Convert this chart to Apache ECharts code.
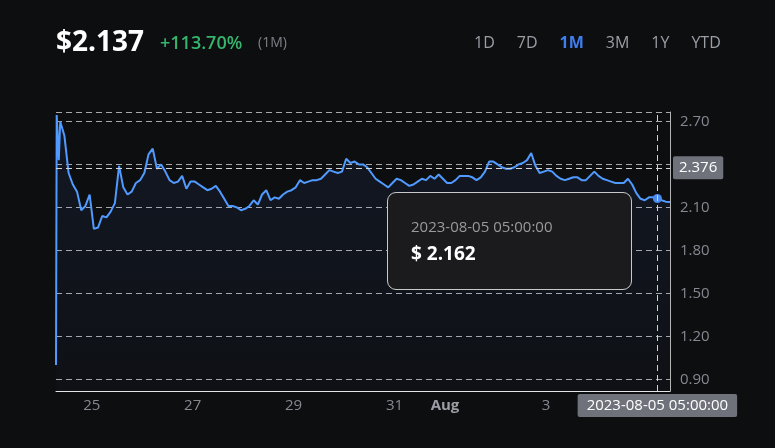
<!DOCTYPE html>
<html lang="en" style="height: 100%">
<head>
  <meta charset="utf-8">
</head>
<body style="height: 100%; margin: 0; background: #0d0e10">
  <div id="container" style="height: 100%"></div>

  <script type="text/javascript" src="https://cdn.jsdelivr.net/npm/echarts@6/dist/echarts.min.js"></script>

  <script type="text/javascript">
    // listing burst, first hours
    var openTimes = ['2023-07-24T07:00:00', '2023-07-24T07:20:00', '2023-07-24T08:20:00'];
    var openPrices = [1.000, 2.745, 2.430];

    // then one price every 2 hours from 2023-07-24 09:00
    var stepStart = '2023-07-24T09:00:00';
    var stepHours = 2;
    var prices = [
      2.70, 2.60, 2.34, 2.26, 2.21, 2.08, 2.11, 2.19, 1.95, 1.96,
      2.04, 2.03, 2.07, 2.13, 2.39, 2.24, 2.19, 2.21, 2.27, 2.29,
      2.34, 2.47, 2.51, 2.37, 2.40, 2.35, 2.29, 2.27, 2.28, 2.32,
      2.23, 2.28, 2.28, 2.26, 2.24, 2.22, 2.23, 2.25, 2.21, 2.16,
      2.11, 2.11, 2.10, 2.08, 2.09, 2.11, 2.15, 2.12, 2.19, 2.22,
      2.15, 2.17, 2.16, 2.19, 2.21, 2.22, 2.24, 2.29, 2.27, 2.28,
      2.29, 2.29, 2.30, 2.33, 2.36, 2.35, 2.34, 2.35, 2.44, 2.41,
      2.42, 2.40, 2.40, 2.38, 2.34, 2.30, 2.28, 2.26, 2.24, 2.27,
      2.30, 2.29, 2.27, 2.25, 2.26, 2.28, 2.30, 2.29, 2.32, 2.30,
      2.33, 2.30, 2.27, 2.27, 2.29, 2.32, 2.32, 2.32, 2.31, 2.29,
      2.31, 2.35, 2.42, 2.42, 2.40, 2.38, 2.37, 2.37, 2.38, 2.40,
      2.41, 2.43, 2.48, 2.39, 2.34, 2.35, 2.36, 2.35, 2.32, 2.30,
      2.29, 2.30, 2.31, 2.31, 2.29, 2.29, 2.32, 2.35, 2.32, 2.30,
      2.29, 2.28, 2.27, 2.27, 2.27, 2.30, 2.26, 2.20, 2.16, 2.15,
      2.17, 2.17, 2.162, 2.15, 2.14, 2.137
    ];

    var ranges = ['1D', '7D', '1M', '3M', '1Y', 'YTD'];
    var activeRange = '1M';
    var hoverAt = '2023-08-05T05:00:00';

    var FONT = '"Open Sans", "Noto Sans", sans-serif';

    var seriesData = [];
    openTimes.forEach(function (t, i) {
      seriesData.push([new Date(t).getTime(), openPrices[i]]);
    });
    var t0 = new Date(stepStart).getTime();
    prices.forEach(function (p, i) {
      seriesData.push([t0 + i * stepHours * 3600 * 1000, p]);
    });

    var firstPrice = openPrices[0];
    var lastPrice = prices[prices.length - 1];
    var change = (lastPrice / firstPrice - 1) * 100;

    function fmtTime(v) {
      return echarts.time.format(v, '{yyyy}-{MM}-{dd} {HH}:{mm}:{ss}', false);
    }

    // header: price, change, period, range buttons
    var measure = document.createElement('canvas').getContext('2d');
    var graphics = [
      { type: 'text', x: 56, y: 43, style: { text: '$' + lastPrice.toFixed(3), fill: '#ffffff', font: 'bold 28px ' + FONT, verticalAlign: 'middle' } },
      { type: 'text', x: 160, y: 44, style: { text: '+' + change.toFixed(2) + '%', fill: '#36b56d', font: '600 18px ' + FONT, verticalAlign: 'middle' } },
      { type: 'text', x: 258, y: 43, style: { text: '(' + activeRange + ')', fill: '#7d8086', font: '14px ' + FONT, verticalAlign: 'middle' } }
    ];
    var bx = 474;
    ranges.forEach(function (r) {
      var active = r === activeRange;
      var font = (active ? 'bold ' : '') + '16px ' + FONT;
      graphics.push({ type: 'text', x: bx, y: 43, style: { text: r, fill: active ? '#3f7ef0' : '#9a9ea5', font: font, verticalAlign: 'middle' } });
      measure.font = font;
      bx += measure.measureText(r).width + 22;
    });

    var dom = document.getElementById('container');
    var myChart = echarts.init(dom, null, { renderer: 'canvas' });

    var dash = [6, 4];

    var option = {
      backgroundColor: '#0d0e10',
      animation: false,
      textStyle: { fontFamily: FONT },
      graphic: graphics,
      grid: { left: 56, right: 105, top: 112, bottom: 57 },
      tooltip: {
        trigger: 'axis',
        alwaysShowContent: true,
        triggerOn: 'mousemove',
        backgroundColor: '#1b1b1d',
        borderColor: '#c9c9c9',
        borderWidth: 1,
        borderRadius: 9,
        padding: [23, 20, 25, 23],
        extraCssText: 'width:245px;height:98px;box-sizing:border-box;box-shadow:none;',
        position: function (point, params, dom, rect, size) {
          return [point[0] - size.contentSize[0] - 25, point[1] + 24];
        },
        axisPointer: {
          type: 'cross',
          crossStyle: { color: '#d4d4d4', width: 1, type: dash },
          lineStyle: { color: '#d4d4d4', width: 1, type: dash }
        },
        formatter: function (params) {
          var p = params[0];
          var ff = FONT.replace(/"/g, "'");
          return '<div style="color:#9a9a9a;font-size:15px;line-height:20px;font-family:' + ff + '">' + fmtTime(p.value[0]) + '</div>' +
            '<div style="color:#fff;font-size:19px;font-weight:bold;line-height:22px;margin-top:6px;font-family:' + ff + '">$ ' + p.value[1].toFixed(3) + '</div>';
        }
      },
      xAxis: {
        type: 'time',
        min: 'dataMin',
        max: 'dataMax',
        boundaryGap: false,
        axisLine: { show: true, lineStyle: { color: '#e4e4e4', width: 1 } },
        axisTick: { show: false },
        splitLine: { show: false },
        axisLabel: {
          color: '#858890',
          fontSize: 15,
          margin: 7,
          rich: { primary: { fontWeight: 'bold', color: '#9a9da3', fontSize: 15 } }
        },
        axisPointer: {
          label: {
            formatter: function (p) { return fmtTime(p.value); },
            backgroundColor: '#6f727a',
            color: '#ffffff',
            fontSize: 15,
            padding: [4, 9, 4, 9],
            borderRadius: 2
          }
        }
      },
      yAxis: {
        type: 'value',
        position: 'right',
        min: 0.818,
        max: 2.766,
        splitNumber: 5,
        axisLine: { show: true, lineStyle: { color: '#b4b4b4', width: 1 } },
        axisTick: { show: false },
        splitLine: { show: true, lineStyle: { color: '#a8a8a8', width: 1, type: dash } },
        axisLabel: {
          color: '#858890',
          fontSize: 15,
          margin: 10,
          showMinLabel: false,
          showMaxLabel: false,
          formatter: function (v) { return v.toFixed(2); }
        },
        axisPointer: {
          label: {
            formatter: function (p) { return p.value.toFixed(3); },
            backgroundColor: '#6f727a',
            color: '#ffffff',
            fontSize: 15,
            padding: [4, 6, 4, 6],
            borderRadius: 2
          }
        }
      },
      series: [{
        type: 'line',
        data: seriesData,
        showSymbol: false,
        symbol: 'circle',
        symbolSize: 9,
        smooth: false,
        lineStyle: { color: '#4a8cf0', width: 2 },
        itemStyle: { color: '#4a8cf0' },
        emphasis: { scale: false },
        areaStyle: {
          color: new echarts.graphic.LinearGradient(0, 0, 0, 1, [
            { offset: 0, color: 'rgba(70, 120, 230, 0.12)' },
            { offset: 1, color: 'rgba(70, 120, 230, 0.03)' }
          ])
        }
      }]
    };

    myChart.setOption(option);

    // hover the 2023-08-05 05:00 point, with the cursor at 2.376 on the price axis
    var px = myChart.convertToPixel({ gridIndex: 0 }, [new Date(hoverAt).getTime(), 2.376]);
    myChart.dispatchAction({ type: 'showTip', x: px[0], y: px[1] });

    window.addEventListener('resize', function () {
      myChart.resize();
    });
  </script>
</body>
</html>
